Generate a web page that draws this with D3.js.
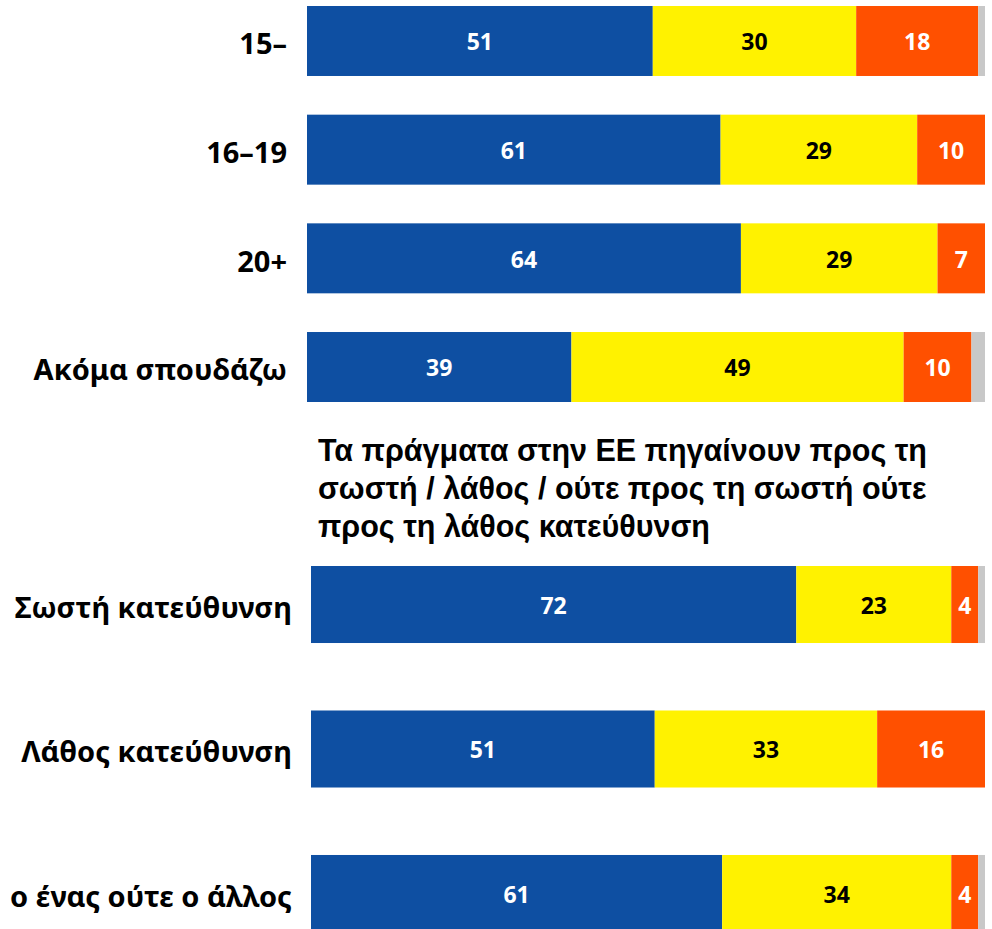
<!DOCTYPE html>
<html>
<head>
<meta charset="utf-8">
<script src="https://cdn.jsdelivr.net/npm/d3@7"></script>
<style>
  html, body { margin: 0; padding: 0; background: #fff; overflow: hidden; }
  svg { display: block; }
</style>
</head>
<body>
<svg id="chart" width="992" height="929"></svg>
<script>
// Upper block: education-level breakdown
const topCategories = ["15–", "16–19", "20+", "Ακόμα σπουδάζω"];
const topPositive = [51, 61, 64, 39];
const topNeutral  = [30, 29, 29, 49];
const topNegative = [18, 10, 7, 10];
const topDontKnow = [1, 0, 0, 2];

// Lower block: views on the direction of the EU
const subTitleLines = [
  "Τα πράγματα στην ΕΕ πηγαίνουν προς τη",
  "σωστή / λάθος / ούτε προς τη σωστή ούτε",
  "προς τη λάθος κατεύθυνση"
];
const bottomCategories = ["Σωστή κατεύθυνση", "Λάθος κατεύθυνση", "ο ένας ούτε ο άλλος"];
const bottomPositive = [72, 51, 61];
const bottomNeutral  = [23, 33, 34];
const bottomNegative = [4, 16, 4];
const bottomDontKnow = [1, 0, 1];

const seriesKeys = ["positive", "neutral", "negative", "dontKnow"];
const colors = { positive: "#0E4FA2", neutral: "#FFF200", negative: "#FF5000", dontKnow: "#C8C8C8" };
const textColors = { positive: "#ffffff", neutral: "#000000", negative: "#ffffff" };

const svg = d3.select("#chart");
const labelFont = "'Noto Sans', 'Open Sans', 'DejaVu Sans', sans-serif";

function rows(cats, pos, neu, neg, dk) {
  return cats.map((c, i) => ({ category: c, positive: pos[i], neutral: neu[i], negative: neg[i], dontKnow: dk[i] }));
}

function drawBlock(data, opts) {
  const x = d3.scaleLinear().domain([0, 100]).range([opts.x0, opts.x1]);
  const y = d3.scaleBand()
    .domain(data.map(d => d.category))
    .range([opts.y0, opts.y1])
    .paddingInner(opts.padding)
    .paddingOuter(0);

  const stacked = d3.stack().keys(seriesKeys)(data);
  const g = svg.append("g");

  const layers = g.selectAll("g.layer")
    .data(stacked)
    .join("g")
    .attr("class", "layer")
    .attr("fill", s => colors[s.key]);

  layers.selectAll("rect")
    .data(s => s.map(p => ({ p, key: s.key })))
    .join("rect")
    .attr("x", d => x(d.p[0]))
    .attr("y", d => y(d.p.data.category))
    .attr("width", d => Math.max(0, x(d.p[1]) - x(d.p[0])))
    .attr("height", y.bandwidth());

  // value labels centred in each segment (no label on "don't know")
  layers.filter(s => s.key !== "dontKnow").selectAll("text")
    .data(s => s.filter(p => p[1] - p[0] > 0).map(p => ({ p, key: s.key })))
    .join("text")
    .attr("x", d => (x(d.p[0]) + x(d.p[1])) / 2)
    .attr("y", d => y(d.p.data.category) + y.bandwidth() / 2 + 1)
    .attr("dy", "0.36em")
    .attr("text-anchor", "middle")
    .attr("fill", d => textColors[d.key])
    .style("font-family", labelFont)
    .style("font-weight", 700)
    .style("font-size", "23px")
    .text(d => d.p[1] - d.p[0]);

  // category labels on the left
  g.selectAll("text.cat")
    .data(data)
    .join("text")
    .attr("class", "cat")
    .attr("x", opts.labelX)
    .attr("y", d => y(d.category) + y.bandwidth() / 2 + 3)
    .attr("dy", "0.36em")
    .attr("text-anchor", "end")
    .attr("fill", "#000")
    .style("font-family", labelFont)
    .style("font-weight", 700)
    .style("font-size", "29px")
    .text(d => d.category);
}

drawBlock(rows(topCategories, topPositive, topNeutral, topNegative, topDontKnow), {
  x0: 307, x1: 985, y0: 6, y1: 402, padding: 0.356, labelX: 287
});

svg.append("g")
  .selectAll("text")
  .data(subTitleLines)
  .join("text")
  .attr("x", 318)
  .attr("y", (d, i) => 461 + i * 38)
  .attr("fill", "#000")
  .style("font-family", "'Liberation Sans', Arial, sans-serif")
  .style("font-weight", 700)
  .style("font-size", "30.5px")
  .text(d => d);

drawBlock(rows(bottomCategories, bottomPositive, bottomNeutral, bottomNegative, bottomDontKnow), {
  x0: 311, x1: 985, y0: 566, y1: 932, padding: 0.467, labelX: 292
});
</script>
</body>
</html>
